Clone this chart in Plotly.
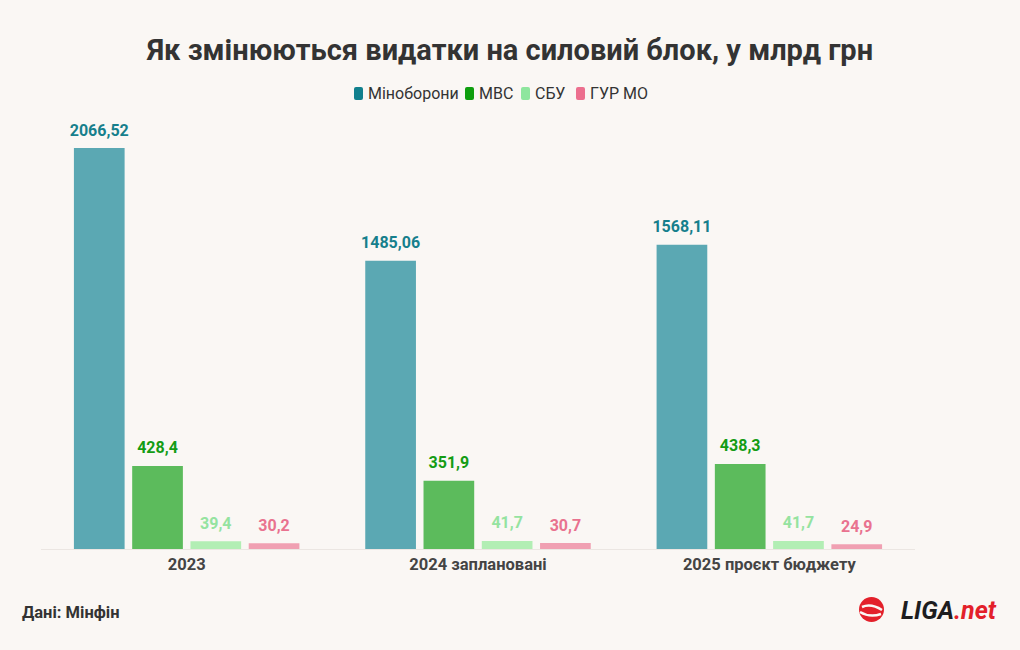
import plotly.graph_objects as go

categories = ["2023", "2024 заплановані", "2025 проєкт бюджету"]
series_names = ["Міноборони", "МВС", "СБУ", "ГУР МО"]
minoborony = [2066.52, 1485.06, 1568.11]
mvs = [428.4, 351.9, 438.3]
sbu = [39.4, 41.7, 41.7]
gur = [30.2, 30.7, 24.9]

bar_colors = ["#5ba8b3", "#5cbb5c", "#b2eeb4", "#f0a0b2"]
text_colors = ["#167f8c", "#149c14", "#95e3a0", "#e9728f"]
legend_colors = ["#11808d", "#0e9e0e", "#8ee69e", "#ec6f8e"]

FONT = "Roboto"
W, H = 1020, 650
ML, MR, MT, MB = 41, 105, 120, 101
PW, PH = W - ML - MR, H - MT - MB
BARGAP = 0.2

def fmt(v):
    s = ("%.2f" % v).rstrip("0").rstrip(".")
    return s.replace(".", ",")

def px(x):
    return (x - ML) / PW

def py(y):
    return (H - MB - y) / PH

def rounded_rect(x0, y0, x1, y1, r):
    pts = [
        "M %f %f" % (px(x0 + r), py(y0)),
        "L %f %f" % (px(x1 - r), py(y0)),
        "Q %f %f %f %f" % (px(x1), py(y0), px(x1), py(y0 + r)),
        "L %f %f" % (px(x1), py(y1 - r)),
        "Q %f %f %f %f" % (px(x1), py(y1), px(x1 - r), py(y1)),
        "L %f %f" % (px(x0 + r), py(y1)),
        "Q %f %f %f %f" % (px(x0), py(y1), px(x0), py(y1 - r)),
        "L %f %f" % (px(x0), py(y0 + r)),
        "Q %f %f %f %f" % (px(x0), py(y0), px(x0 + r), py(y0)),
        "Z",
    ]
    return " ".join(pts)

fig = go.Figure()
all_vals = [minoborony, mvs, sbu, gur]
for name, vals, bc in zip(series_names, all_vals, bar_colors):
    fig.add_trace(go.Bar(
        x=categories, y=vals, name=name,
        marker=dict(color=bc, line=dict(width=0)),
        showlegend=False, hoverinfo="skip",
    ))
for name, vals, tc in zip(series_names, all_vals, text_colors):
    fig.add_trace(go.Scatter(
        x=categories, y=vals, name=name, mode="markers+text",
        marker=dict(size=12, opacity=0),
        text=[fmt(v) for v in vals], textposition="top center",
        textfont=dict(family=FONT, size=16, color=tc, weight="bold"),
        cliponaxis=False, showlegend=False, hoverinfo="skip",
    ))

fig.update_layout(
    width=W, height=H,
    barmode="group", bargap=BARGAP, bargroupgap=0.13,
    scattermode="group", scattergap=BARGAP,
    paper_bgcolor="#faf7f4", plot_bgcolor="#faf7f4",
    margin=dict(l=ML, r=MR, t=MT, b=MB),
    title=dict(text="<b>Як змінюються видатки на силовий блок, у млрд грн</b>",
               x=0.5, xanchor="center", y=1 - 50 / H, yanchor="middle",
               font=dict(family=FONT, size=29, color="#333333")),
    showlegend=False,
    font=dict(family=FONT, color="#333333"),
    xaxis=dict(showgrid=False, showline=True, linecolor="#ebe6e2", linewidth=1,
               ticks="", tickfont=dict(family=FONT, size=16.5, color="#444444", weight="bold")),
    yaxis=dict(range=[0, 2211], visible=False, showgrid=False, zeroline=False),
)

# legend (rounded swatch + label)
legend_x = [354, 465, 521, 576]
for name, lc, lx in zip(series_names, legend_colors, legend_x):
    fig.add_shape(type="path", xref="paper", yref="paper",
                  path=rounded_rect(lx, 87, lx + 9, 100, 2),
                  fillcolor=lc, line=dict(width=0))
    fig.add_annotation(text=name, xref="paper", yref="paper",
                       x=px(lx + 12), xanchor="left", y=py(93.5), yanchor="middle",
                       showarrow=False, font=dict(family=FONT, size=16, color="#333333"))

fig.add_annotation(text="<b>Дані: Мінфін</b>", xref="paper", yref="paper",
                   x=px(20), xanchor="left", y=py(612), yanchor="middle", showarrow=False,
                   font=dict(family=FONT, size=16.5, color="#333333"))
fig.add_annotation(text="<b><i><span style='color:#1d1d1f'>LIGA</span><span style='color:#e3202a'>.net</span></i></b>",
                   xref="paper", yref="paper", x=px(999), xanchor="right", y=py(610), yanchor="middle",
                   showarrow=False, font=dict(family=FONT, size=25, color="#1d1d1f"))
fig.add_shape(type="circle", xref="paper", yref="paper",
              x0=px(859), x1=px(884), y0=py(622), y1=py(597),
              fillcolor="#e3202a", line=dict(width=0))
fig.add_shape(type="path", xref="paper", yref="paper",
              path="M %f %f Q %f %f %f %f" % (px(862), py(607), px(871), py(603), px(882), py(610)),
              line=dict(color="#faf7f4", width=2.5))
fig.add_shape(type="path", xref="paper", yref="paper",
              path="M %f %f Q %f %f %f %f" % (px(860), py(612), px(870), py(618), px(881), py(614)),
              line=dict(color="#faf7f4", width=2.5))

fig.write_html("out.html", config={"displayModeBar": False},
               post_script="document.body.style.margin='0';document.body.style.background='#faf7f4';")
